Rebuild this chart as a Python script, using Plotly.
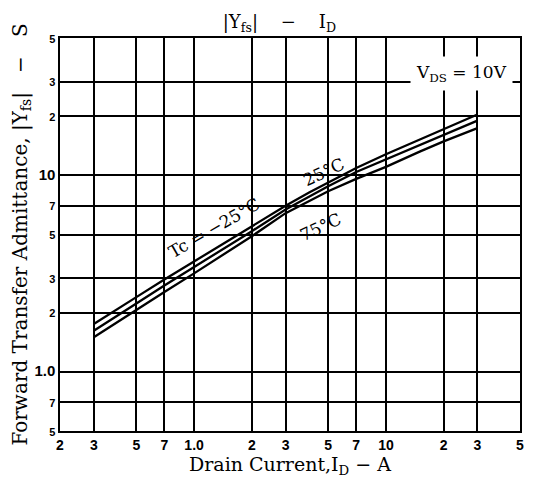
import numpy as np
import plotly.graph_objects as go

# Drain current (A)
id_a = [0.3, 0.4, 0.5, 0.7, 1.0, 1.5, 2.0, 3.0, 4.0, 5.0, 7.0, 10.0, 15.0, 20.0, 30.0]
# |Yfs| (S) for each case temperature
yfs_m25 = [1.75, 2.10, 2.40, 2.95, 3.65, 4.65, 5.5, 7.0, 8.2, 9.2, 10.9, 12.8, 15.2, 17.2, 20.4]
yfs_25 = [1.62, 1.95, 2.23, 2.75, 3.41, 4.37, 5.2, 6.7, 7.85, 8.8, 10.4, 12.05, 14.3, 16.1, 19.0]
yfs_75 = [1.50, 1.80, 2.06, 2.55, 3.17, 4.08, 4.9, 6.42, 7.45, 8.3, 9.6, 11.05, 13.2, 14.9, 17.4]

x_tickvals = [0.2, 0.3, 0.5, 0.7, 1, 2, 3, 5, 7, 10, 20, 30, 50]
x_ticktext = ["2", "3", "5", "7", "1.0", "2", "3", "5", "7", "10", "2", "3", "5"]
y_tickvals = [0.5, 0.7, 1, 2, 3, 5, 7, 10, 20, 30, 50]
y_ticktext = ["5", "7", "1.0", "2", "3", "5", "7", "10", "2", "3", "5"]

serif = "DejaVu Serif"
sans = "Liberation Sans"

fig = go.Figure()
for ys in (yfs_m25, yfs_25, yfs_75):
    fig.add_trace(go.Scatter(x=id_a, y=ys, mode="lines",
                             line=dict(color="black", width=2.3),
                             showlegend=False, hoverinfo="skip"))

def ytxt(t):
    if t in ("10", "1.0"):
        return f"<span style='font-size:15px'>{t}</span>"
    return f"<span style='font-size:11px'>{t}</span>"

# page body adds an 8px offset, so the figure is drawn 8px smaller
fig.update_layout(
    width=532, height=475,
    margin=dict(l=52, r=20, t=30, b=52),
    paper_bgcolor="white", plot_bgcolor="white",
    title=dict(text="|Y<sub>fs</sub>|    −    I<sub>D</sub>", x=0.477, xref="paper",
               y=0.985, yref="container", xanchor="center", yanchor="top",
               font=dict(family=serif, size=18, color="black")),
    xaxis=dict(type="log", range=[np.log10(0.2), np.log10(50)], automargin=False,
               tickvals=x_tickvals, ticktext=x_ticktext, ticks="",
               tickfont=dict(family=sans, size=14, color="black", weight="bold"),
               showgrid=True, gridcolor="black", gridwidth=1.7,
               showline=True, linecolor="black", linewidth=2, mirror=True,
               zeroline=False,
               title=dict(text="Drain Current,I<sub>D</sub> − A", standoff=4,
                          font=dict(family=serif, size=19, color="black"))),
    yaxis=dict(type="log", range=[np.log10(0.5), np.log10(50)], automargin=False,
               tickvals=y_tickvals, ticktext=[ytxt(t) for t in y_ticktext], ticks="",
               tickfont=dict(family=sans, size=13, color="black", weight="bold"),
               showgrid=True, gridcolor="black", gridwidth=1.7,
               showline=True, linecolor="black", linewidth=2, mirror=True,
               zeroline=False,
               title=dict(text="Forward Transfer Admittance, |Y<sub>fs</sub>|   −   S", standoff=12,
                          font=dict(family=serif, size=20, color="black"))),
)

i3 = id_a.index(3.0)
fig.add_annotation(x=np.log10(id_a[i3]), y=np.log10(yfs_m25[i3]), xref="x", yref="y",
                   text="Tc = −25°C", textangle=-30, showarrow=False,
                   xshift=-72, yshift=-22,
                   font=dict(family=serif, size=17, color="black"))
fig.add_annotation(x=np.log10(id_a[i3]), y=np.log10(yfs_25[i3]), xref="x", yref="y",
                   text="25°C", textangle=-25, showarrow=False, xshift=38, yshift=38,
                   font=dict(family=serif, size=17, color="black"))
fig.add_annotation(x=np.log10(id_a[i3]), y=np.log10(yfs_75[i3]), xref="x", yref="y",
                   text="75°C", textangle=-25, showarrow=False, xshift=35, yshift=-14,
                   font=dict(family=serif, size=17, color="black"))
fig.add_annotation(x=0.985, y=0.955, xref="paper", yref="paper", xanchor="right",
                   text="V<sub>DS</sub> = 10V", showarrow=False, bgcolor="white", borderpad=5,
                   font=dict(family=serif, size=17, color="black"))

fig.write_html("out.html")
